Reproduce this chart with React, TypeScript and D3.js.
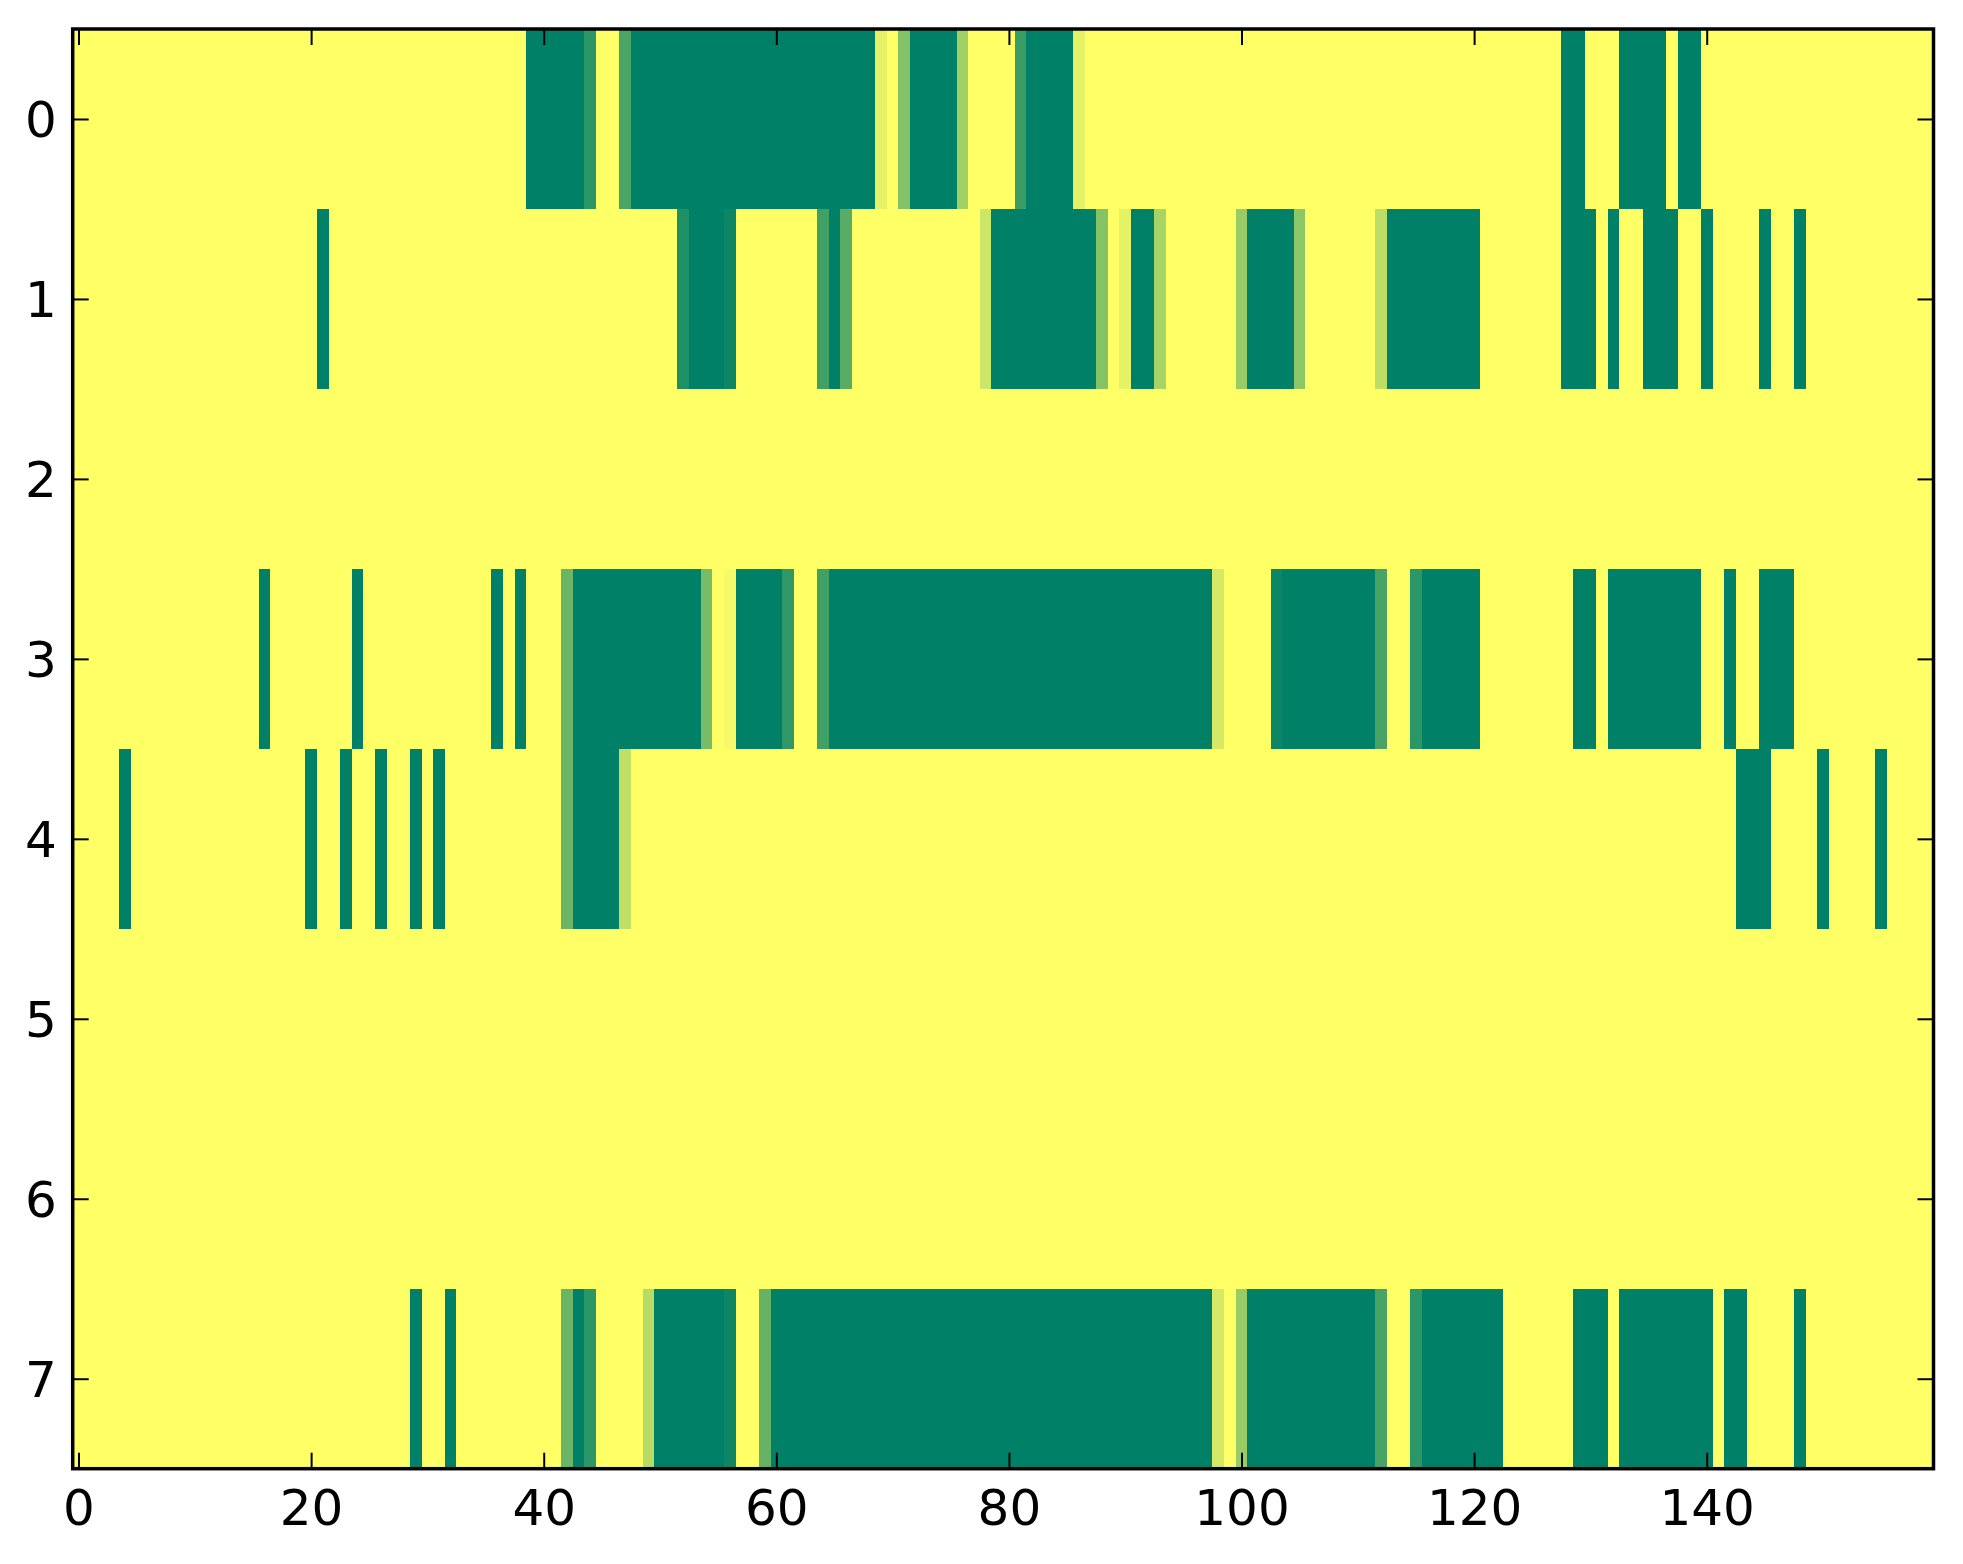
import React, { useEffect, useRef } from 'react';
import * as d3 from 'd3';

// Each row of the matrix as runs [fromCol, toCol, value] (inclusive).
// value 1 = yellow end of the "summer" colormap, 0 = green end.
type Run = [number, number, number];

const ROW_0: Run[] = [
  [0, 38, 1], [39, 43, 0], [44, 44, 0.17], [45, 46, 1], [47, 47, 0.29], [48, 68, 0],
  [69, 69, 0.9], [70, 70, 1], [71, 71, 0.52], [72, 75, 0], [76, 76, 0.63], [77, 80, 1],
  [81, 81, 0.23], [82, 85, 0], [86, 86, 0.9], [87, 127, 1], [128, 129, 0], [130, 132, 1],
  [133, 136, 0], [137, 137, 1], [138, 139, 0], [140, 159, 1],
];
const ROW_1: Run[] = [
  [0, 20, 1], [21, 21, 0], [22, 51, 1], [52, 52, 0.12], [53, 55, 0], [56, 56, 0.05],
  [57, 63, 1], [64, 64, 0.25], [65, 65, 0], [66, 66, 0.35], [67, 77, 1], [78, 78, 0.8],
  [79, 87, 0], [88, 88, 0.52], [89, 89, 1], [90, 90, 0.9], [91, 92, 0], [93, 93, 0.66],
  [94, 99, 1], [100, 100, 0.6], [101, 104, 0], [105, 105, 0.55], [106, 111, 1],
  [112, 112, 0.74], [113, 120, 0], [121, 127, 1], [128, 130, 0], [131, 131, 1],
  [132, 132, 0], [133, 134, 1], [135, 137, 0], [138, 139, 1], [140, 140, 0],
  [141, 144, 1], [145, 145, 0], [146, 147, 1], [148, 148, 0], [149, 159, 1],
];
const ROW_2: Run[] = [[0, 159, 1]];
const ROW_3: Run[] = [
  [0, 15, 1], [16, 16, 0], [17, 23, 1], [24, 24, 0], [25, 35, 1], [36, 36, 0], [37, 37, 1],
  [38, 38, 0], [39, 41, 1], [42, 42, 0.42], [43, 53, 0], [54, 54, 0.47], [55, 55, 1],
  [56, 56, 0.96], [57, 60, 0], [61, 61, 0.19], [62, 63, 1], [64, 64, 0.25], [65, 97, 0],
  [98, 98, 0.83], [99, 102, 1], [103, 103, 0.05], [104, 111, 0], [112, 112, 0.28],
  [113, 114, 1], [115, 115, 0.17], [116, 120, 0], [121, 128, 1], [129, 130, 0],
  [131, 131, 1], [132, 139, 0], [140, 141, 1], [142, 142, 0], [143, 144, 1],
  [145, 147, 0], [148, 159, 1],
];
const ROW_4: Run[] = [
  [0, 3, 1], [4, 4, 0], [5, 19, 1], [20, 20, 0], [21, 22, 1], [23, 23, 0], [24, 25, 1],
  [26, 26, 0], [27, 28, 1], [29, 29, 0], [30, 30, 1], [31, 31, 0], [32, 41, 1],
  [42, 42, 0.42], [43, 46, 0], [47, 47, 0.75], [48, 142, 1], [143, 145, 0], [146, 149, 1],
  [150, 150, 0], [151, 154, 1], [155, 155, 0], [156, 159, 1],
];
const ROW_5: Run[] = [[0, 159, 1]];
const ROW_6: Run[] = [[0, 159, 1]];
const ROW_7: Run[] = [
  [0, 28, 1], [29, 29, 0], [30, 31, 1], [32, 32, 0], [33, 41, 1], [42, 42, 0.42],
  [43, 43, 0], [44, 44, 0.17], [45, 48, 1], [49, 49, 0.72], [50, 55, 0], [56, 56, 0.05],
  [57, 58, 1], [59, 59, 0.4], [60, 97, 0], [98, 98, 0.83], [99, 99, 1], [100, 100, 0.6],
  [101, 111, 0], [112, 112, 0.28], [113, 114, 1], [115, 115, 0.17], [116, 122, 0],
  [123, 128, 1], [129, 131, 0], [132, 132, 1], [133, 140, 0], [141, 141, 1],
  [142, 143, 0], [144, 147, 1], [148, 148, 0], [149, 159, 1],
];

const ROWS: Run[][] = [ROW_0, ROW_1, ROW_2, ROW_3, ROW_4, ROW_5, ROW_6, ROW_7];
const N_COLS = 160;
const X_TICKS = [0, 20, 40, 60, 80, 100, 120, 140];
const Y_TICKS = [0, 1, 2, 3, 4, 5, 6, 7];

const FONT = 'DejaVu Sans, sans-serif';

export default function App() {
  const ref = useRef<SVGSVGElement>(null);

  useEffect(() => {
    const svgEl = ref.current;
    if (!svgEl) return;
    const svg = d3.select(svgEl);
    svg.selectAll('*').remove();

    const left = 72.7;
    const top = 29;
    const width = 1933.5 - left;
    const height = 1468.7 - top;

    const x = d3.scaleLinear().domain([-0.5, N_COLS - 0.5]).range([0, width]);
    const y = d3.scaleLinear().domain([-0.5, ROWS.length - 0.5]).range([0, height]);
    const color = d3
      .scaleLinear<string>()
      .domain([0, 1])
      .range(['#008066', '#ffff66'])
      .interpolate(d3.interpolateRgb);

    const g = svg.append('g').attr('transform', `translate(${left},${top})`);

    const cells = ROWS.flatMap((runs, r) => runs.map(([a, b, v]) => ({ r, a, b, v })));
    g.selectAll('rect.cell')
      .data(cells)
      .join('rect')
      .attr('class', 'cell')
      .attr('x', (d) => x(d.a - 0.5))
      .attr('width', (d) => x(d.b + 0.5) - x(d.a - 0.5))
      .attr('y', (d) => y(d.r - 0.5))
      .attr('height', (d) => y(d.r + 0.5) - y(d.r - 0.5))
      .attr('fill', (d) => color(d.v))
      .attr('shape-rendering', 'crispEdges');

    const styleAxis = (s: d3.Selection<SVGGElement, unknown, null, undefined>) => {
      s.select('.domain').remove();
      s.selectAll('line').attr('stroke', '#000').attr('stroke-width', 2);
      s.selectAll('text').attr('fill', '#000').attr('font-family', FONT).attr('font-size', 50);
    };

    g.append('g')
      .attr('transform', `translate(0,${height})`)
      .call(d3.axisBottom(x).tickValues(X_TICKS).tickSize(-16).tickPadding(21).tickFormat(d3.format('d')))
      .call(styleAxis);
    g.append('g')
      .call(d3.axisTop(x).tickValues(X_TICKS).tickSize(-16).tickFormat(() => ''))
      .call(styleAxis);
    g.append('g')
      .call(d3.axisLeft(y).tickValues(Y_TICKS).tickSize(-16).tickPadding(16).tickFormat(d3.format('d')))
      .call(styleAxis)
      .call((s) => s.selectAll('text').attr('dy', '0.36em'));
    g.append('g')
      .attr('transform', `translate(${width},0)`)
      .call(d3.axisRight(y).tickValues(Y_TICKS).tickSize(-16).tickFormat(() => ''))
      .call(styleAxis);

    g.append('rect')
      .attr('width', width)
      .attr('height', height)
      .attr('fill', 'none')
      .attr('stroke', '#000')
      .attr('stroke-width', 3.5);
  }, []);

  return (
    <svg
      ref={ref}
      width={1963}
      height={1564}
      style={{ position: 'absolute', left: 0, top: 0, display: 'block', background: '#fff' }}
    />
  );
}
